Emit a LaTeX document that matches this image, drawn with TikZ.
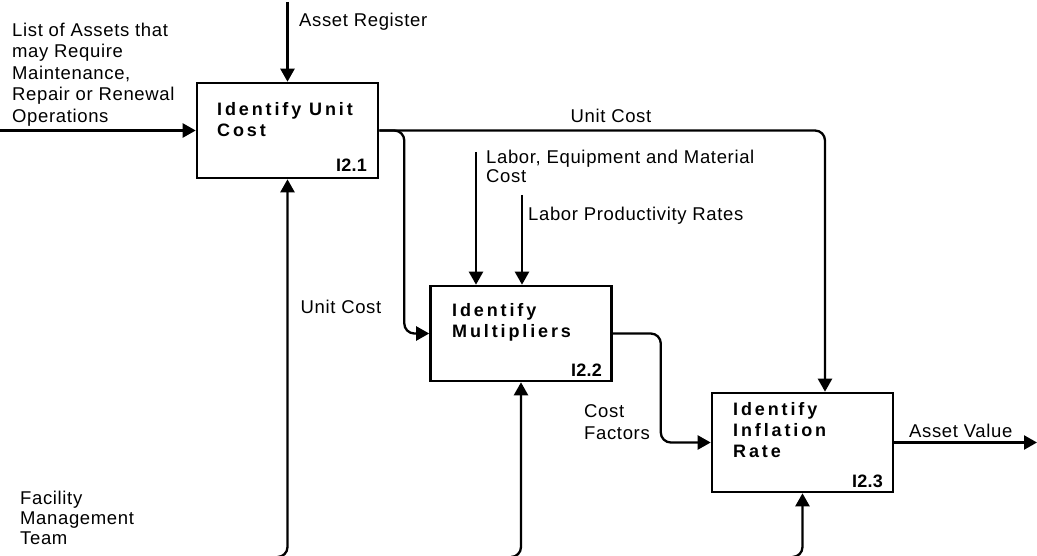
\documentclass[tikz,border=0pt]{standalone}
\usepackage{fontspec}
\setmainfont{Liberation Sans}[LetterSpace=3.5]
\newfontfamily\titlefont{Liberation Sans}[LetterSpace=16]
\newfontfamily\idfont{Liberation Sans}[LetterSpace=1]
\usetikzlibrary{arrows.meta,calc}

\tikzset{
  proc/.style={draw, line width=2.6pt, minimum width=181pt, minimum height=95pt, inner sep=0pt},
  flow/.style={line width=2.3pt, -{Triangle[length=13pt,width=14pt]}, rounded corners=10pt},
  lbl/.style={font=\fontsize{18.5}{20.5}\selectfont, inner sep=0pt, align=left},
  ttl/.style={font=\titlefont\fontsize{18}{21}\selectfont\bfseries, inner sep=0pt, align=left, anchor=north west},
  pid/.style={font=\idfont\fontsize{18}{20}\selectfont\bfseries, inner sep=0pt, anchor=base east},
}

\begin{document}
\begin{tikzpicture}[x=1pt, y=-1pt]
\useasboundingbox (0,0) rectangle (1037,556);

% activity boxes
\node[proc] (b1) at (287.5,130.5) {};
\node[proc] (b2) at (521,333.5) {};
\node[proc, minimum height=99pt] (b3) at (802.5,442.5) {};

\node[ttl] (t1) at (217,102) {Identify Unit\\Cost};
\node[ttl] (t2) at (452,303.7) {Identify\\Multipliers};
\node[ttl] (t3) at (733,402) {Identify\\Inflation\\Rate};

\node[pid] (n1) at (367,172) {I2.1};
\node[pid] (n2) at (602,376) {I2.2};
\node[pid] (n3) at (883,487) {I2.3};

% free ends of the connectors
\coordinate (ar) at (287.5,2);
\coordinate (la) at (0,130.5);
\coordinate (lemc) at (476,152);
\coordinate (lpr) at (522,195);
\coordinate (av) at (1037,442.5);
\coordinate (m1) at (277.5,557);
\coordinate (m2) at (511,557);
\coordinate (m3) at (792.5,557);

% controls and inputs
\draw[flow] (ar) -- (b1.north);
\draw[flow] (la) -- (b1.west);
\draw[flow] (lemc) -- (lemc |- b2.north);
\draw[flow] (lpr) -- (lpr |- b2.north);

% outputs
\draw[flow] (b1.east) -| ([xshift=22.5pt]b3.north);
\draw[flow] (b1.east) -- ++(25,0) |- (b2.west);
\draw[flow] (b2.east) -- ++(48,0) |- (b3.west);
\draw[flow] (b3.east) -- (av);

% mechanisms
\draw[flow] (m1) -| (b1.south);
\draw[flow] (m2) -| (b2.south);
\draw[flow] (m3) -| (b3.south);

% labels
\node[lbl, anchor=base west] (tar) at (299,27) {Asset Register};
\node[lbl, anchor=north west, font=\fontsize{18.5}{21.5}\selectfont] (tla) at (12,22.5)
  {List of Assets that\\may Require\\Maintenance,\\Repair or Renewal\\Operations};
\node[lbl, anchor=base] (tuc) at (611,123) {Unit Cost};
\node[lbl, anchor=base] (tuc2) at (341,313) {Unit Cost};
\node[lbl, anchor=north west, font=\fontsize{18.5}{19}\selectfont] (tlemc) at (486,150)
  {Labor, Equipment and Material\\Cost};
\node[lbl, anchor=base west] (tlpr) at (528,221) {Labor Productivity Rates};
\node[lbl, anchor=north west, font=\fontsize{18.5}{21.5}\selectfont] (tcf) at (584,404.5) {Cost\\Factors};
\node[lbl, anchor=base west] (tav) at (909,437) {Asset Value};
\node[lbl, anchor=north west, font=\fontsize{18.5}{20}\selectfont] (tfm) at (20,491)
  {Facility\\Management\\Team};
\end{tikzpicture}
\end{document}
